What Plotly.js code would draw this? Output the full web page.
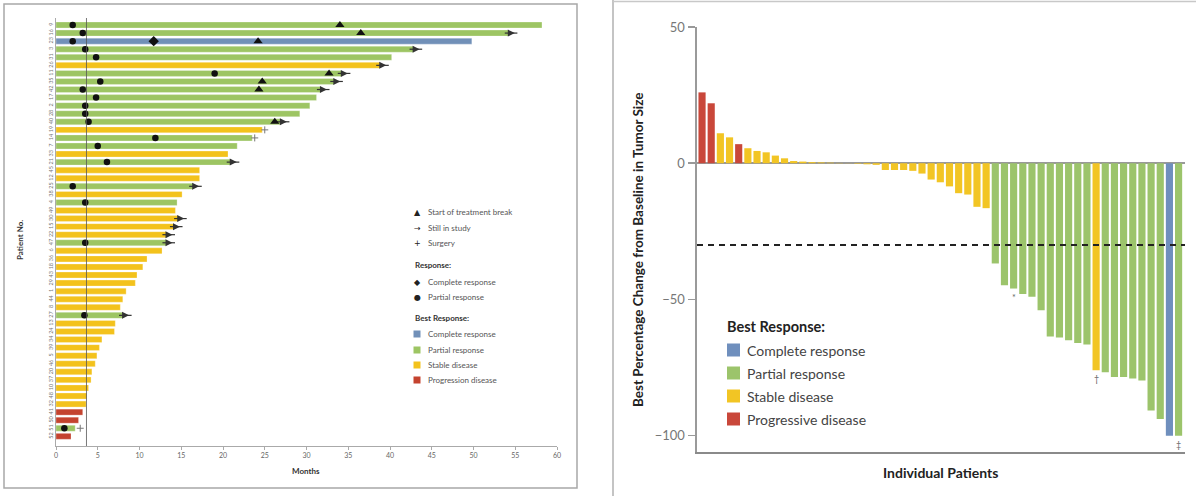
<!DOCTYPE html>
<html>
<head>
<meta charset="utf-8">
<script src="https://cdn.plot.ly/plotly-3.0.1.min.js"></script>
<style>html,body{margin:0;padding:0;background:#fff;}#chart{width:1196px;height:496px;}</style>
</head>
<body>
<div id="chart"></div>
<script>
// ---------- Swimmer plot data (left panel) ----------
const patientIds = ['9','16','23','3','31','26','11','35','42','17','2','28','40','19','14','7','33','21','45','12','25','38','4','49','30','15','22','47','6','36','18','43','29','1','44','8','27','13','24','34','39','5','46','20','37','10','48','32','41','50','51','52'];
const swimMonths = [58.2,54.2,49.8,42.8,40.2,38.8,34.2,33.3,31.7,31.2,30.4,29.2,26.9,24.7,23.5,21.7,20.6,20.9,17.2,17.2,16.4,15.1,14.5,14.3,14.6,14.1,13.2,13.2,12.7,10.9,10.4,9.7,9.5,8.4,8.0,7.7,8.0,7.1,7.0,5.5,5.2,4.9,4.7,4.3,4.2,3.9,3.7,3.6,3.2,2.7,2.3,1.8];
const swimResponse = ['PR','PR','CR','PR','PR','SD','PR','PR','PR','PR','PR','PR','PR','SD','PR','PR','SD','PR','SD','SD','PR','SD','PR','SD','SD','SD','SD','PR','SD','SD','SD','SD','SD','SD','SD','SD','PR','SD','SD','SD','SD','SD','SD','SD','SD','SD','SD','SD','PD','PD','PR','PD'];
const partialRows   = [0,1,2,3,4,6,7,8,9,10,11,12,14,15,17,20,22,27,36,50];
const partialMonths = [2.0,3.2,2.0,3.5,4.8,19.0,5.3,3.2,4.8,3.5,3.5,3.9,11.9,5.0,6.1,2.0,3.5,3.5,3.4,1.0];
const completeRows   = [2];
const completeMonths = [11.7];
const breakRows   = [0,1,2,6,7,8,12];
const breakMonths = [34.0,36.5,24.2,32.7,24.7,24.3,26.2];
const stillRows = [1,3,5,6,7,8,12,17,20,24,25,26,27,36];
const surgeryRows   = [13,14,50];
const surgeryMonths = [25.0,23.8,2.9];
const medianResponseMonths = 3.65;
const monthTicks = [0,5,10,15,20,25,30,35,40,45,50,55,60];

// ---------- Waterfall data (right panel) ----------
const waterfallChange = [26,22,11,9.5,7,5.5,4.5,4,2.8,1.8,0.8,0.6,0.4,0.3,0.2,0.1,0.05,-0.2,-0.4,-0.6,-2.5,-2.5,-2.5,-2.8,-3.8,-6,-7,-8.5,-11,-11.5,-16,-16.5,-36.8,-44.8,-46,-48,-49,-54,-63.6,-64,-65,-66,-66.5,-76,-76.7,-78.5,-78.5,-79,-79.8,-90.8,-93.9,-100,-100];
const waterfallResponse = ['PD','PD','SD','SD','PD','SD','SD','SD','SD','SD','SD','SD','SD','SD','SD','SD','SD','SD','SD','SD','SD','SD','SD','SD','SD','SD','SD','SD','SD','SD','SD','SD','PR','PR','PR','PR','PR','PR','PR','PR','PR','PR','PR','SD','PR','PR','PR','PR','PR','PR','PR','CR','PR'];
const footnoteBars  = [34,43,52];
const footnoteMarks = ['*','†','‡'];
const responseThreshold = -30;
const changeTicks = [50,0,-50,-100];
const changeTickText = ['50','0','−50','−100'];

const responseNames = {CR:'Complete response', PR:'Partial response', SD:'Stable disease', PD:'Progressive disease'};
const leftColors  = {CR:'#7190b8', PR:'#9dc563', SD:'#f3c21c', PD:'#c4432f'};
const rightColors = {CR:'#6f8fbd', PR:'#9cc46b', SD:'#f2c524', PD:'#c9473a'};

const W = 1196, H = 496;
const px = x => x / W;
const py = y => 1 - y / H;
const FONT = 'Lato, "Open Sans", sans-serif';

const traces = [];
const rowIdx = swimMonths.map((_, i) => i);

// swimmer bars grouped by response
['CR','PR','SD','PD'].forEach(code => {
  const ys = [], xs = [];
  rowIdx.forEach(i => { if (swimResponse[i] === code) { ys.push(i); xs.push(swimMonths[i]); } });
  traces.push({type:'bar', orientation:'h', x:xs, y:ys, base:0, width:0.74,
    marker:{color:leftColors[code], line:{color:'rgba(255,255,255,0.35)', width:0.8}},
    name:responseNames[code], showlegend:false, xaxis:'x', yaxis:'y', hoverinfo:'x'});
});
// still in study arrows
traces.push({type:'scatter', mode:'markers', x:stillRows.map(r => swimMonths[r] + 0.3), y:stillRows,
  marker:{symbol:'line-ew', size:9, color:'#333', line:{color:'#333', width:1.2}}, showlegend:false, xaxis:'x', yaxis:'y', hoverinfo:'skip'});
traces.push({type:'scatter', mode:'markers', x:stillRows.map(r => swimMonths[r] + 0.75), y:stillRows,
  marker:{symbol:'arrow-right', size:7, color:'#333'}, showlegend:false, xaxis:'x', yaxis:'y', name:'Still in study'});
// partial response dots
traces.push({type:'scatter', mode:'markers', x:partialMonths, y:partialRows,
  marker:{symbol:'circle', size:6.5, color:'#111'}, showlegend:false, xaxis:'x', yaxis:'y', name:'Partial response'});
// complete response
traces.push({type:'scatter', mode:'markers', x:completeMonths, y:completeRows,
  marker:{symbol:'diamond', size:8, color:'#111'}, showlegend:false, xaxis:'x', yaxis:'y', name:'Complete response'});
// treatment break
traces.push({type:'scatter', mode:'markers', x:breakMonths, y:breakRows,
  marker:{symbol:'triangle-up', size:8, color:'#111'}, showlegend:false, xaxis:'x', yaxis:'y', name:'Start of treatment break'});
// surgery
traces.push({type:'scatter', mode:'markers', x:surgeryMonths, y:surgeryRows,
  marker:{symbol:'cross-thin-open', size:5, color:'#777', line:{color:'#777', width:1}}, showlegend:false, xaxis:'x', yaxis:'y', name:'Surgery'});

// waterfall bars grouped by response
const barIdx = waterfallChange.map((_, i) => i);
['CR','PR','SD','PD'].forEach(code => {
  const xs = [], ys = [];
  barIdx.forEach(i => { if (waterfallResponse[i] === code) { xs.push(i); ys.push(waterfallChange[i]); } });
  traces.push({type:'bar', x:xs, y:ys, width:0.78, marker:{color:rightColors[code]},
    name:responseNames[code], showlegend:false, xaxis:'x2', yaxis:'y2', hoverinfo:'y'});
});

const annotations = [];
const shapes = [];

// frames
shapes.push({type:'rect', xref:'paper', yref:'paper', x0:px(4), x1:px(577), y0:py(488), y1:py(4), line:{color:'#a8a8a8', width:1.5}});
shapes.push({type:'line', xref:'paper', yref:'paper', x0:px(613), x1:px(613), y0:0, y1:1, line:{color:'#b0b0b0', width:1.5}});
shapes.push({type:'line', xref:'paper', yref:'paper', x0:px(613), x1:1, y0:py(1.5), y1:py(1.5), line:{color:'#c8c8c8', width:1.5}});
// median response line (left)
shapes.push({type:'line', xref:'x', yref:'paper', x0:medianResponseMonths, x1:medianResponseMonths, y0:py(446), y1:py(18), line:{color:'#555', width:0.8}});
// threshold dashed line (right)
shapes.push({type:'line', xref:'x2 domain', yref:'y2', x0:0, x1:1, y0:responseThreshold, y1:responseThreshold, line:{color:'#222', width:2, dash:'6px,5px'}});

// footnote marks
footnoteBars.forEach((b, j) => {
  annotations.push({xref:'x2', yref:'y2', x:b, y:waterfallChange[b], yanchor:'top', yshift:-1, text:footnoteMarks[j], showarrow:false, font:{family:FONT, size:9, color:'#666'}});
});

// left legend
const ltext = {family:FONT, size:8, color:'#555'};
const lhead = {family:FONT, size:8, color:'#333', weight:'bold'};
const leftSym = [['▲','Start of treatment break',212],['→','Still in study',228],['+','Surgery',243]];
leftSym.forEach(([s,t,y]) => {
  annotations.push({xref:'paper', yref:'paper', x:px(417), y:py(y), xanchor:'center', yanchor:'middle', text:s, showarrow:false, font:{family:'DejaVu Sans', size:8, color:'#222'}});
  annotations.push({xref:'paper', yref:'paper', x:px(426), y:py(y), xanchor:'left', yanchor:'middle', text:t, showarrow:false, font:ltext});
});
annotations.push({xref:'paper', yref:'paper', x:px(413), y:py(265), xanchor:'left', yanchor:'middle', text:'<b>Response:</b>', showarrow:false, font:lhead});
[['◆','Complete response',282],['●','Partial response',297]].forEach(([s,t,y]) => {
  annotations.push({xref:'paper', yref:'paper', x:px(417), y:py(y), xanchor:'center', yanchor:'middle', text:s, showarrow:false, font:{family:'DejaVu Sans', size:8, color:'#222'}});
  annotations.push({xref:'paper', yref:'paper', x:px(426), y:py(y), xanchor:'left', yanchor:'middle', text:t, showarrow:false, font:ltext});
});
annotations.push({xref:'paper', yref:'paper', x:px(413), y:py(318), xanchor:'left', yanchor:'middle', text:'<b>Best Response:</b>', showarrow:false, font:lhead});
[['CR','Complete response',334],['PR','Partial response',350],['SD','Stable disease',365],['PD','Progression disease',380]].forEach(([c,t,y]) => {
  shapes.push({type:'rect', xref:'paper', yref:'paper', x0:px(413.5), x1:px(420.5), y0:py(y+3.5), y1:py(y-3.5), fillcolor:leftColors[c], line:{width:0}});
  annotations.push({xref:'paper', yref:'paper', x:px(426), y:py(y), xanchor:'left', yanchor:'middle', text:t, showarrow:false, font:ltext});
});

// left axis titles
annotations.push({xref:'paper', yref:'paper', x:px(306), y:py(471), xanchor:'center', yanchor:'middle', text:'<b>Months</b>', showarrow:false, font:{family:FONT, size:8, color:'#333'}});
annotations.push({xref:'paper', yref:'paper', x:px(20), y:py(240), xanchor:'center', yanchor:'middle', textangle:-90, text:'<b>Patient No.</b>', showarrow:false, font:{family:FONT, size:8, color:'#333'}});

// right axis titles
annotations.push({xref:'paper', yref:'paper', x:px(638), y:py(250), xanchor:'center', yanchor:'middle', textangle:-90, text:'<b>Best Percentage Change from Baseline in Tumor Size</b>', showarrow:false, font:{family:FONT, size:13.5, color:'#222'}});
annotations.push({xref:'paper', yref:'paper', x:px(940), y:py(472), xanchor:'center', yanchor:'middle', text:'<b>Individual Patients</b>', showarrow:false, font:{family:FONT, size:14, color:'#222'}});

// right legend
annotations.push({xref:'paper', yref:'paper', x:px(725), y:py(326), xanchor:'left', yanchor:'middle', text:'<b>Best Response:</b>', showarrow:false, font:{family:FONT, size:14.5, color:'#222'}});
[['CR',350],['PR',373],['SD',396],['PD',419]].forEach(([c,y]) => {
  shapes.push({type:'rect', xref:'paper', yref:'paper', x0:px(727), x1:px(740), y0:py(y+6.5), y1:py(y-6.5), fillcolor:rightColors[c], line:{width:0}});
  annotations.push({xref:'paper', yref:'paper', x:px(745), y:py(y), xanchor:'left', yanchor:'middle', text:responseNames[c], showarrow:false, font:{family:FONT, size:14, color:'#444'}});
});

const layout = {
  width:W, height:H, autosize:false,
  margin:{l:0, r:0, t:0, b:0, pad:0},
  paper_bgcolor:'#fff', plot_bgcolor:'rgba(0,0,0,0)',
  showlegend:false, barmode:'overlay',
  font:{family:FONT},
  xaxis:{domain:[px(56), px(557)], range:[0,60], anchor:'y', tickvals:monthTicks,
    tickfont:{family:FONT, size:7, color:'#666'}, showline:true, linecolor:'#aaa', linewidth:1,
    ticks:'outside', ticklen:3, tickcolor:'#aaa', showgrid:false, zeroline:false},
  yaxis:{domain:[py(446), py(18)], range:[52.2,-0.87], anchor:'x', tickvals:rowIdx, ticktext:patientIds,
    tickangle:-90, tickfont:{family:FONT, size:5.5, color:'#777'}, showline:true, linecolor:'#aaa', linewidth:1,
    ticks:'', showgrid:false, zeroline:false},
  xaxis2:{domain:[px(697), px(1185)], range:[-0.55,52.7], anchor:'y2', showticklabels:false, ticks:'',
    showline:true, linecolor:'#8a8a8a', linewidth:2, showgrid:false, zeroline:false},
  yaxis2:{domain:[py(452), py(27)], range:[-106,50], anchor:'x2', tickvals:changeTicks, ticktext:changeTickText,
    ticks:'outside', ticklen:7, tickcolor:'#999', tickwidth:1.5, tickfont:{family:FONT, size:13, color:'#777'},
    showline:true, linecolor:'#9a9a9a', linewidth:2.5, showgrid:false, zeroline:true, zerolinecolor:'#999', zerolinewidth:1.5},
  shapes:shapes, annotations:annotations
};

Plotly.newPlot('chart', traces, layout, {displayModeBar:false, staticPlot:true});
</script>
</body>
</html>
